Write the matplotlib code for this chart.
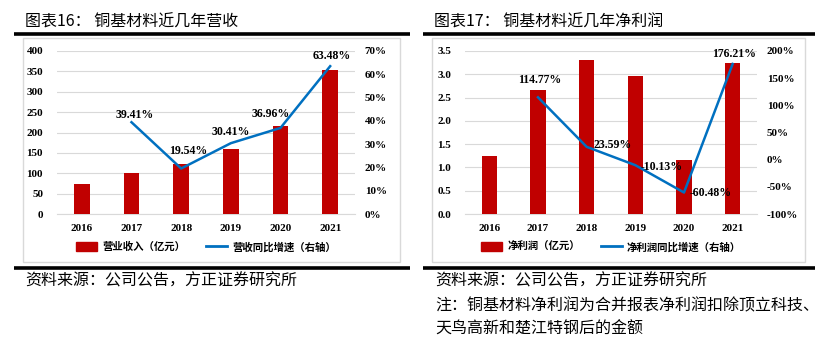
import matplotlib
matplotlib.use("Agg")
import matplotlib.pyplot as plt
from matplotlib.lines import Line2D
from matplotlib.patches import Rectangle, Patch
import numpy as np

years = ["2016", "2017", "2018", "2019", "2020", "2021"]
revenue = [73, 101, 122, 160, 216, 354]
revenue_growth = [None, 39.41, 19.54, 30.41, 36.96, 63.48]
profit = [1.25, 2.67, 3.30, 2.97, 1.16, 3.24]
profit_growth = [None, 114.77, 23.59, -10.13, -60.48, 176.21]

W, H = 823, 342
RED = "#C00000"
BLUE = "#0070C0"
GRID = "#D9D9D9"
CJK = ["Noto Sans CJK SC", "DejaVu Sans"]
SERIF = "Liberation Serif"

fig = plt.figure(figsize=(W / 100, H / 100), dpi=100)


def fx(px):
    return px / W


def fy(py):
    return 1 - py / H


def hline(x0, x1, y, lw, color):
    fig.add_artist(Line2D([fx(x0), fx(x1)], [fy(y), fy(y)], transform=fig.transFigure,
                          color=color, lw=lw, solid_capstyle="butt"))


def panel(x_left, x_right, title, ax_l, ax_r, bars, growth, ylim, yticks, yfmt,
          rlim, rticks, leg_bar, leg_line, offsets):
    # title
    fig.text(fx(x_left + 11), fy(22), title, family=CJK, fontsize=11.5, va="center", ha="left")
    hline(x_left, x_right, 33.5, 2.6, "black")
    # box
    fig.add_artist(Rectangle((fx(x_left + 9), fy(262)), fx(x_right - x_left - 19), fy(38) - fy(262),
                             transform=fig.transFigure, fill=False, edgecolor=GRID, lw=1))
    ax = fig.add_axes([fx(ax_l), fy(214), fx(ax_r - ax_l), fy(51) - fy(214)])
    x = np.arange(len(years))
    ax.bar(x, bars, width=0.31, color=RED, zorder=3)
    ax.set_xlim(-0.5, len(years) - 0.5)
    ax.set_ylim(*ylim)
    ax.set_yticks(yticks)
    ax.set_yticklabels([yfmt(v) for v in yticks])
    ax.set_xticks(x)
    ax.set_xticklabels(years)
    ax.grid(axis="y", color=GRID, lw=0.8, zorder=0)
    for s in ["top", "right", "left"]:
        ax.spines[s].set_visible(False)
    ax.spines["bottom"].set_color(GRID)
    ax.tick_params(length=0, pad=10)
    ax.tick_params(axis="x", pad=7)
    for lab in ax.get_xticklabels() + ax.get_yticklabels():
        lab.set_fontfamily(SERIF)
        lab.set_fontweight("bold")
        lab.set_fontsize(8)

    ax2 = ax.twinx()
    gx = [i for i, g in enumerate(growth) if g is not None]
    gy = [g for g in growth if g is not None]
    ax2.plot(gx, gy, color=BLUE, lw=1.8, zorder=4)
    ax2.set_ylim(*rlim)
    ax2.set_yticks(rticks)
    ax2.set_yticklabels([f"{v}%" for v in rticks])
    for s in ["top", "right", "left", "bottom"]:
        ax2.spines[s].set_visible(False)
    ax2.tick_params(length=0, pad=7)
    for lab in ax2.get_yticklabels():
        lab.set_fontfamily(SERIF)
        lab.set_fontweight("bold")
        lab.set_fontsize(8)
    for (i, g), (dx, dy, ha, va) in zip(zip(gx, gy), offsets):
        ax2.annotate(f"{g:.2f}%", (i, g), xytext=(dx, dy), textcoords="offset points",
                     ha=ha, va=va, fontfamily=SERIF, fontweight="bold", fontsize=8.5, zorder=5)

    handles = [Patch(color=RED), Line2D([0], [0], color=BLUE, lw=2)]
    fig.legend(handles, [leg_bar, leg_line], loc="center",
               bbox_to_anchor=(fx((ax_l + ax_r) / 2), fy(247)), ncol=2, frameon=False,
               prop={"family": CJK, "size": 7.5, "weight": "bold"},
               handlelength=2.0, handleheight=0.9, columnspacing=2.0, handletextpad=0.5)
    hline(x_left, x_right, 268, 2.6, "black")


panel(14, 410, "图表16： 铜基材料近几年营收", 57, 355, revenue, revenue_growth,
      (0, 400), list(range(0, 401, 50)), lambda v: f"{v}",
      (0, 70), list(range(0, 71, 10)), "营业收入（亿元）", "营收同比增速（右轴）",
      [(2, 1, "center", "bottom"), (5, 8, "center", "bottom"), (0, 4, "center", "bottom"),
       (-7, 6, "center", "bottom"), (1, 3, "center", "bottom")])

panel(423, 815, "图表17： 铜基材料近几年净利润", 465, 757, profit, profit_growth,
      (0, 3.5), [0, 0.5, 1.0, 1.5, 2.0, 2.5, 3.0, 3.5], lambda v: f"{v:.1f}",
      (-100, 200), list(range(-100, 201, 50)), "净利润（亿元）", "净利润同比增速（右轴）",
      [(1, 8, "center", "bottom"), (5, 1, "left", "center"), (4, -1, "left", "center"),
       (4, 0, "left", "center"), (1, 3, "center", "bottom")])

foot = dict(family=CJK, fontsize=11.5, style="italic", va="center", ha="left")
fig.text(fx(25), fy(281), "资料来源：公司公告，方正证券研究所", **foot)
fig.text(fx(435), fy(281), "资料来源：公司公告，方正证券研究所", **foot)
fig.text(fx(435), fy(306), "注：铜基材料净利润为合并报表净利润扣除顶立科技、", **foot)
fig.text(fx(435), fy(329), "天鸟高新和楚江特钢后的金额", **foot)

fig.savefig("out.png", dpi=100)
